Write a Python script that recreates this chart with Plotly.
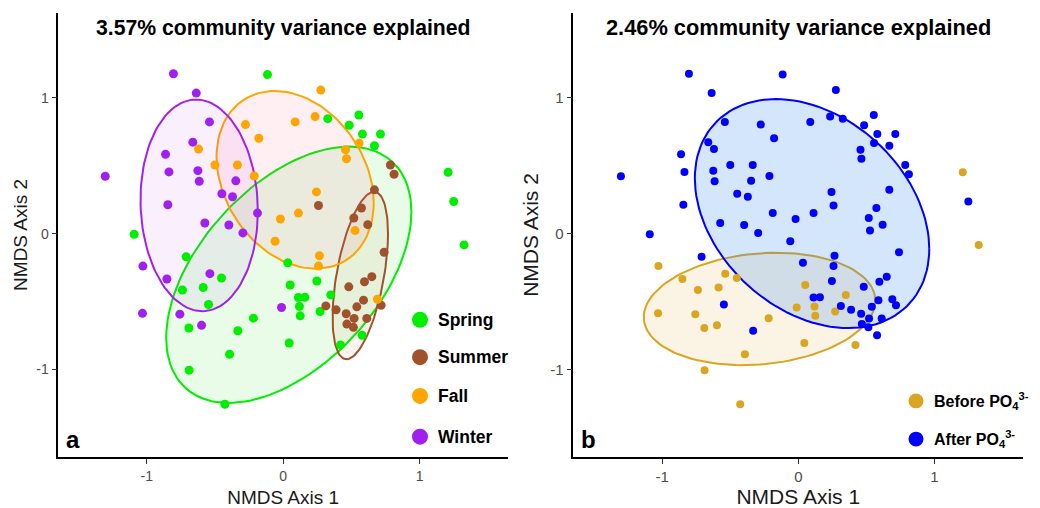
import numpy as np
import plotly.graph_objects as go

# NMDS site scores (axis 1, axis 2), sampling season and period of each site
spring_x = [-0.115, 0.327, 0.555, 0.484, 0.581, 0.713, 0.669, 1.209, 1.250, 1.326,
            -1.092, -0.711, 0.034, -0.452, -0.738, -0.586, 0.051, -0.547, -0.691, -0.332,
            -0.218, 0.044, -0.393, -0.689, -0.427, 0.247, 0.349, 0.112, 0.159, 0.119,
            0.271, 0.125, 0.579, 0.420]
spring_y = [1.170, 0.846, 0.873, 0.797, 0.732, 0.732, 0.646, 0.451, 0.236, -0.083,
            -0.005, -0.171, -0.215, -0.327, -0.415, -0.397, -0.378, -0.522, -0.695, -0.715,
            -0.622, -0.805, -0.888, -1.005, -1.256, -0.349, -0.451, -0.470, -0.468, -0.536,
            -0.573, -0.605, -0.748, -0.819]
spring_period = ["After", "After", "After", "After", "After", "After", "After", "Before", "After", "Before",
                 "After", "After", "After", "Before", "Before", "Before", "Before", "After", "Before", "After",
                 "Before", "Before", "Before", "Before", "Before", "After", "Before", "After", "After", "Before",
                 "Before", "Before", "After", "Before"]

summer_x = [0.786, 0.813, 0.669, 0.259, 0.574, 0.518, 0.620, 0.740, 0.650, 0.596,
            0.481, 0.589, 0.718, 0.540, 0.313, 0.388, 0.462, 0.520, 0.613, 0.467, 0.515]
summer_y = [0.505, 0.437, 0.322, 0.207, 0.188, 0.115, 0.066, -0.137, -0.317, -0.354,
            -0.392, -0.490, -0.527, -0.539, -0.532, -0.561, -0.590, -0.624, -0.624, -0.666, -0.690]
summer_period = ["After"] * 21

fall_x = [-0.276, -0.178, -0.620, -0.500, -0.335, -0.212, -0.020, -0.059, 0.276, 0.088,
          0.234, 0.557, 0.457, 0.464, 0.244, 0.112, 0.527, 0.266, 0.259, 0.691]
fall_y = [0.802, 0.702, 0.622, 0.505, 0.505, 0.424, 0.107, -0.056, 1.056, 0.822,
          0.861, 0.666, 0.617, 0.551, 0.307, 0.151, 0.022, -0.163, -0.239, -0.483]
fall_period = ["After"] * 20

winter_x = [-0.804, -0.637, -0.540, -0.662, -0.862, -0.837, -0.625, -0.615, -0.347, -1.304,
            -0.449, -0.371, -0.845, -0.188, -0.574, -0.398, -0.295, -1.028, -0.852, -0.537,
            -1.031, -0.757, -0.598, -0.012]
winter_y = [1.176, 1.034, 0.822, 0.673, 0.583, 0.454, 0.463, 0.385, 0.388, 0.422,
            0.293, 0.271, 0.212, 0.151, 0.078, 0.063, 0.005, -0.239, -0.334, -0.295,
            -0.587, -0.593, -0.675, -0.544]
winter_period = ["After"] * 17 + ["Before"] * 7

seasons = ["Spring", "Summer", "Fall", "Winter"]
season_x = {"Spring": spring_x, "Summer": summer_x, "Fall": fall_x, "Winter": winter_x}
season_y = {"Spring": spring_y, "Summer": summer_y, "Fall": fall_y, "Winter": winter_y}
season_period = {"Spring": spring_period, "Summer": summer_period,
                 "Fall": fall_period, "Winter": winter_period}

periods = ["Before", "After"]
period_labels = {"Before": "Before PO<sub>4</sub><sup>3-</sup>",
                 "After": "After PO<sub>4</sub><sup>3-</sup>"}

titles = ["3.57% community variance explained", "2.46% community variance explained"]
tick_vals = [-1, 0, 1]
ELLIPSE_LEVEL = 0.75

season_line = {"Spring": "#00EE00", "Summer": "#A0522D", "Fall": "#FFA500", "Winter": "#A020F0"}
season_fill = {"Spring": "rgba(0,220,0,0.09)", "Summer": "rgba(200,110,50,0.08)",
               "Fall": "rgba(255,90,130,0.10)", "Winter": "rgba(190,60,230,0.08)"}
period_line = {"Before": "#DAA520", "After": "#0000FF"}
period_fill = {"Before": "rgba(218,165,32,0.12)", "After": "rgba(40,130,240,0.20)"}


def cov_trob(xy, nu=5, maxit=25, tol=0.01):
    """Robust multivariate-t location/scatter (as MASS::cov.trob)."""
    n, p = xy.shape
    wt = np.ones(n)
    loc = xy.mean(axis=0)
    w = np.sqrt(wt)
    X = xy - loc
    for _ in range(maxit):
        w0 = w
        X = xy - loc
        A = np.sqrt(w / w.sum())[:, None] * X
        _, d, vt = np.linalg.svd(A, full_matrices=False)
        wX = X @ vt.T @ np.diag(1.0 / d)
        Q = (wX ** 2).sum(axis=1)
        w = wt * (nu + p) / (nu + Q)
        loc = (w[:, None] * xy).sum(axis=0) / w.sum()
        if np.all(np.abs(w - w0) < tol):
            break
    sw = np.sqrt(w)[:, None] * X
    return loc, sw.T @ sw / wt.sum()


def ellipse(xs, ys, level=ELLIPSE_LEVEL, segments=120):
    xy = np.column_stack([xs, ys])
    center, shape = cov_trob(xy)
    dfd = len(xs) - 1
    fq = dfd / 2.0 * ((1 - level) ** (-2.0 / dfd) - 1)   # F(2, dfd) quantile
    radius = np.sqrt(2 * fq)
    ang = np.linspace(0, 2 * np.pi, segments + 1)
    circle = np.column_stack([np.cos(ang), np.sin(ang)])
    upper = np.linalg.cholesky(shape).T
    pts = center + radius * circle @ upper
    return pts[:, 0], pts[:, 1]


all_x = np.concatenate([season_x[s] for s in seasons])
all_y = np.concatenate([season_y[s] for s in seasons])
all_period = np.array(sum([season_period[s] for s in seasons], []))

fig = go.Figure()

# panel a: seasons
for s in seasons:
    ex, ey = ellipse(season_x[s], season_y[s])
    fig.add_trace(go.Scatter(x=ex, y=ey, mode="lines", fill="toself",
                             fillcolor=season_fill[s],
                             line=dict(color=season_line[s], width=2),
                             hoverinfo="skip", showlegend=False, xaxis="x", yaxis="y"))
for s in seasons:
    fig.add_trace(go.Scatter(x=season_x[s], y=season_y[s], mode="markers", name=s,
                             marker=dict(color=season_line[s], size=9),
                             showlegend=False, xaxis="x", yaxis="y"))

# panel b: before / after phosphate
for p in periods:
    m = all_period == p
    ex, ey = ellipse(all_x[m], all_y[m])
    fig.add_trace(go.Scatter(x=ex, y=ey, mode="lines", fill="toself",
                             fillcolor=period_fill[p],
                             line=dict(color=period_line[p], width=2),
                             hoverinfo="skip", showlegend=False, xaxis="x2", yaxis="y2"))
for p in periods:
    m = all_period == p
    fig.add_trace(go.Scatter(x=all_x[m], y=all_y[m], mode="markers", name=p,
                             marker=dict(color=period_line[p], size=8),
                             showlegend=False, xaxis="x2", yaxis="y2"))

W, H = 1040, 508
FONT = "Arial, Liberation Sans, sans-serif"


def axis(domain, rng, title, tsize, fsize, anchor, standoff=8):
    return dict(domain=domain, range=rng, tickvals=tick_vals, ticktext=[str(v) for v in tick_vals],
                showgrid=False, zeroline=False, showline=True, linecolor="black", linewidth=1.5,
                ticks="outside", ticklen=5, tickwidth=1, tickcolor="#333333",
                tickfont=dict(family=FONT, size=tsize, color="#4D4D4D"),
                title=dict(text=title, font=dict(family=FONT, size=fsize, color="#1a1a1a"),
                           standoff=standoff),
                anchor=anchor)


ydom = [1 - 460 / H, 1 - 12.7 / H]
fig.update_layout(
    width=W, height=H, margin=dict(l=0, r=0, t=0, b=0),
    plot_bgcolor="white", paper_bgcolor="white", showlegend=False,
    xaxis=axis([58.3 / W, 508 / W], [-1.648, 1.648], "NMDS Axis 1", 14, 19, "y"),
    yaxis=axis(ydom, [-1.646, 1.626], "NMDS Axis 2", 14, 19, "x", standoff=4),
    xaxis2=axis([573.3 / W, 1023.3 / W], [-1.654, 1.654], "NMDS Axis 1", 15, 21, "y2"),
    yaxis2=axis(ydom, [-1.646, 1.626], "NMDS Axis 2", 15, 21, "x2", standoff=6),
)

# titles and panel letters
for xr, t, fs in [("x", titles[0], 21.2), ("x2", titles[1], 21.8)]:
    fig.add_annotation(text=f"<b>{t}</b>", xref=f"{xr} domain", x=0.5, yref="paper",
                       y=1 - 28 / H, showarrow=False, xanchor="center", yanchor="middle",
                       font=dict(family=FONT, size=fs, color="black"))
for xr, letter in [("x", "a"), ("x2", "b")]:
    fig.add_annotation(text=f"<b>{letter}</b>", xref=f"{xr} domain", x=0.012, yref="paper",
                       y=1 - 442 / H, showarrow=False, xanchor="left", yanchor="middle",
                       font=dict(family=FONT, size=24, color="black"))

# legend keys drawn in page coordinates
r = 8
for s, yc in zip(seasons, [321.7, 359.3, 398.3, 439.3]):
    fig.add_shape(type="circle", xref="paper", yref="paper",
                  x0=(420 - r) / W, x1=(420 + r) / W, y0=1 - (yc + r) / H, y1=1 - (yc - r) / H,
                  fillcolor=season_line[s], line=dict(width=0))
    fig.add_annotation(text=f"<b>{s}</b>", xref="paper", yref="paper", x=436 / W, y=1 - yc / H,
                       xanchor="left", yanchor="middle", showarrow=False,
                       font=dict(family=FONT, size=17.5, color="black"))
r = 7.5
for p, yc in zip(periods, [403.3, 441.7]):
    fig.add_shape(type="circle", xref="paper", yref="paper",
                  x0=(916 - r) / W, x1=(916 + r) / W, y0=1 - (yc + r) / H, y1=1 - (yc - r) / H,
                  fillcolor=period_line[p], line=dict(width=0))
    fig.add_annotation(text=f"<b>{period_labels[p]}</b>", xref="paper", yref="paper",
                       x=932 / W, y=1 - yc / H, xanchor="left", yanchor="middle", showarrow=False,
                       font=dict(family=FONT, size=16, color="black"))

fig.write_html("out.html")
